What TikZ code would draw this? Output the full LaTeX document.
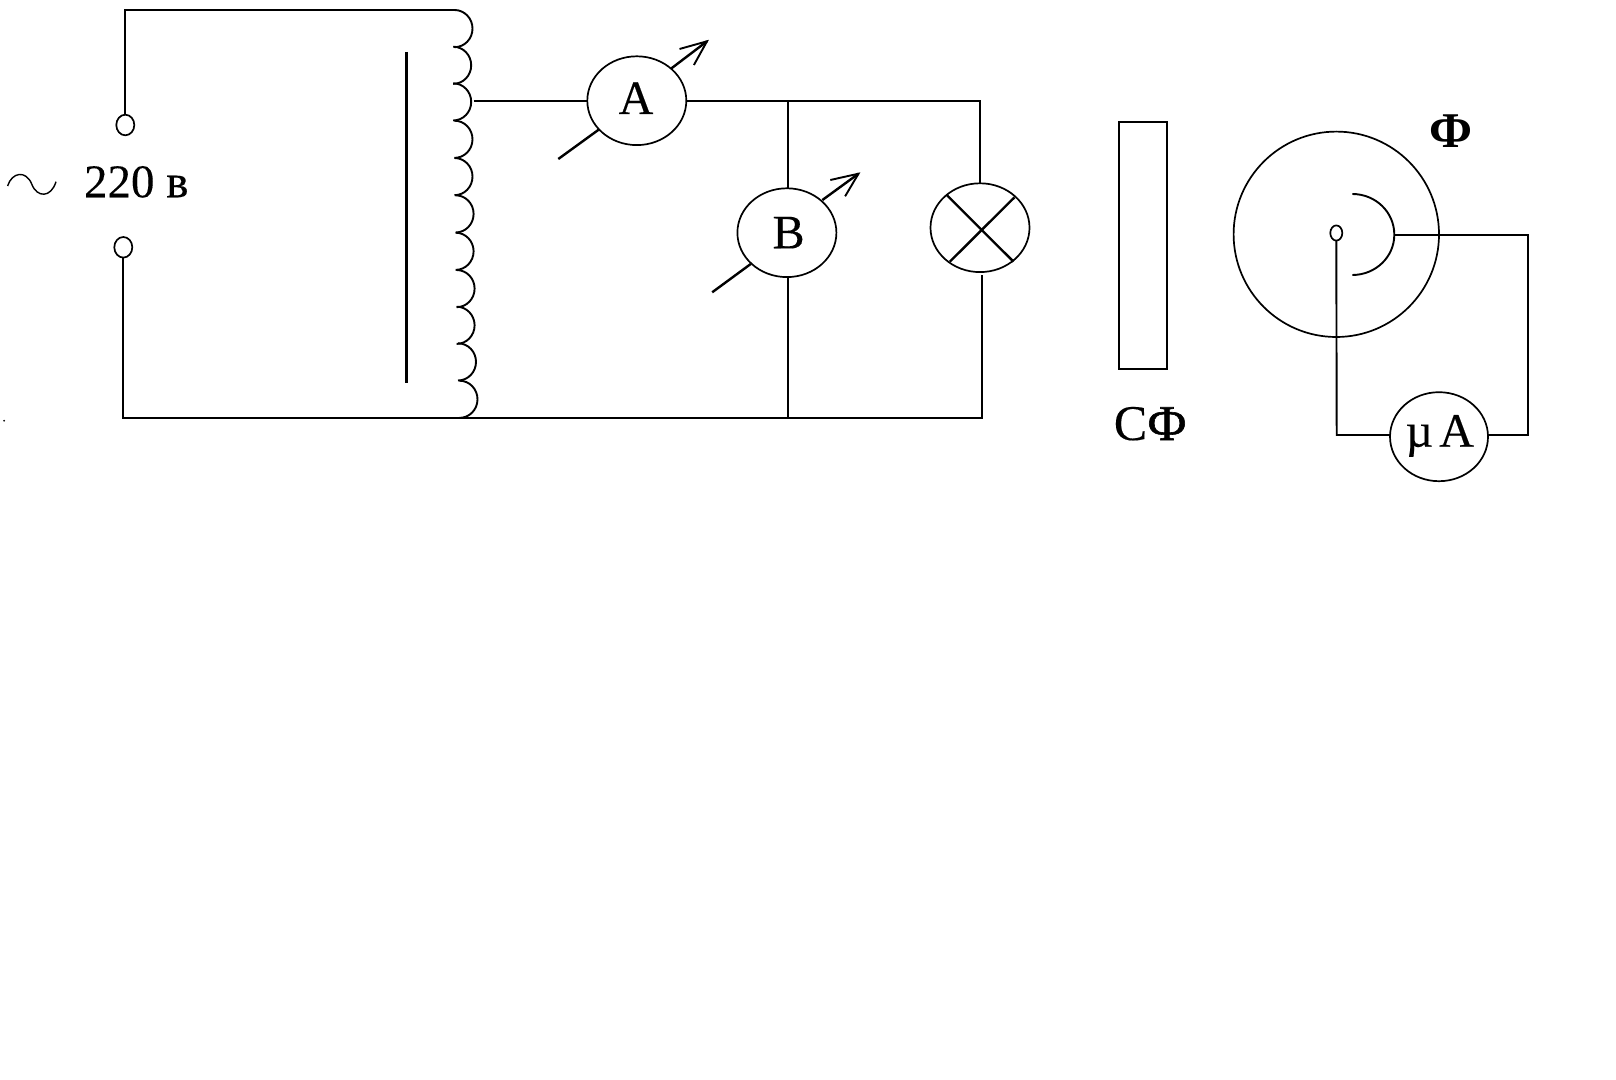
\documentclass[tikz,border=0pt]{standalone}
\usepackage{fontspec}
\setmainfont{Liberation Serif}
\usetikzlibrary{shapes.geometric}
\tikzset{
  wire/.style={draw=black,line width=0.95pt,line cap=butt,line join=miter},
  heavyw/.style={draw=black,line width=1.2pt},
  core/.style={draw=black,line width=1.5pt},
  meter/.style={shape=ellipse,draw=black,line width=0.85pt,minimum width=49.5pt,minimum height=44.4pt,inner sep=0pt,outer sep=0pt},
  term/.style={shape=ellipse,draw=black,line width=0.85pt,minimum width=9pt,minimum height=10.3pt,inner sep=0pt,outer sep=0pt},
  lbl/.style={inner sep=0pt,outer sep=0pt,anchor=base,font=\fontsize{24}{28}\selectfont\addfontfeature{FakeBold=0.25}},
}
\begin{document}
\begin{tikzpicture}[x=0.5pt,y=-0.5pt]
\useasboundingbox (0,0) rectangle (1616,1080);
% terminals
\node[term] (t1) at (125.3,125) {};
\node[term] (t2) at (123.3,247.3) {};
% meters and lamp
\node[meter] (am) at (636.8,100.7) {};
\node[meter] (vm) at (786.9,232.7) {};
\node[meter] (lamp) at (980,227.7) {};
\node[meter,minimum width=49pt,minimum height=44.5pt] (ua) at (1439,436.7) {};
% labels
\node[lbl,anchor=base west,font=\fontsize{23.5}{28}\selectfont\addfontfeature{FakeBold=0.25}] (v220) at (84,197.3) {220 в};
\node[lbl] (la) at (636,114) {A};
\node[lbl] (lb) at (788.6,248.3) {B};
\node[lbl,font=\fontsize{25}{28}\selectfont\addfontfeature{FakeBold=0.25}] (lsf) at (1150.3,440) {С{\addfontfeature{FakeBold=1.2}Ф}};
\node[lbl,font=\fontsize{25}{28}\selectfont\bfseries] (lf) at (1450.5,147.5) {Ф};
\node[lbl] (lua) at (1439.7,446.7) {µ\hspace{3pt}A};
% coordinates
\coordinate (tl) at (124.7,10);
\coordinate (c0) at (454.5,10);
\coordinate (bl) at (122.6,417.7);
\coordinate (tap) at (473.5,100.7);
\coordinate (j1) at (788,100.7);
\coordinate (j2) at (788,417.7);
\coordinate (tr) at (980,100.7);
\coordinate (br) at (982.1,417.7);
\coordinate (lampb) at (982.1,275);
% mains wires
\draw[wire] (t1.north) -- (t1.north |- tl) -- (c0);
\draw[wire] (t2.south) -- (t2.south |- bl) -- (br) -- (lampb);
% winding
\foreach \xa/\ya in {454.5/10,453.2/46.7,453.2/83.3,454.5/120.7,454.5/158,455.6/195.3,455.6/232.7,456.6/270,456.6/306.7,458/343.3,459.5/380.7}
  \draw[wire] (\xa,\ya) arc[start angle=90,end angle=-90,x radius=9pt,y radius=9.3pt];
% core
\coordinate (co1) at (406.3,52);
\coordinate (co2) at (406.3,382.7);
\draw[core] (co1) -- (co2);
% load circuit
\draw[wire] (tap) -- (am.west);
\draw[wire] (am.east) -- (tr) -- (lamp.north -| tr);
\draw[wire] (j1) -- (vm.north -| j1);
\draw[wire] (vm.south -| j2) -- (j2);
% lamp cross
\coordinate (x1) at (947,195.3);
\coordinate (x2) at (1013.5,261.7);
\coordinate (x3) at (1014.5,197.3);
\coordinate (x4) at (949.8,261.7);
\draw[heavyw] (x1) -- (x2);
\draw[heavyw] (x3) -- (x4);
% variable arrows
\coordinate (a1) at (558.3,159);
\coordinate (a2) at (599.2,129.3);
\coordinate (a3) at (671.5,68.3);
\coordinate (a4) at (707,41.3);
\coordinate (a5) at (679.5,49);
\coordinate (a6) at (693.9,65);
\draw[heavyw] (a1) -- (a2);
\draw[heavyw] (a3) -- (a4);
\draw[wire] (a5) -- (a4) -- (a6);
\coordinate (b1) at (712.2,292.3);
\coordinate (b2) at (750.7,264);
\coordinate (b3) at (822.4,200);
\coordinate (b4) at (858.5,173.7);
\coordinate (b5) at (830.3,180);
\coordinate (b6) at (845.1,196.3);
\draw[heavyw] (b1) -- (b2);
\draw[heavyw] (b3) -- (b4);
\draw[wire] (b5) -- (b4) -- (b6);
% tilde
\coordinate (ti1) at (7.6,186);
\coordinate (ti2) at (31.7,184);
\coordinate (ti3) at (56,181.7);
\draw[draw=black,line width=0.7pt] (ti1) .. controls (12,172) and (26,170) .. (ti2) .. controls (37,198) and (51,198) .. (ti3);
% speck
\fill[black] (4.1,420.7) circle (0.5pt);
% filter
\node[draw=black,line width=0.95pt,shape=rectangle,inner sep=0pt,outer sep=0pt,minimum width=24.3pt,minimum height=123.6pt] (sf) at (1143,245.3) {};
% photocell
\node[shape=circle,draw=black,line width=0.85pt,minimum size=102.7pt,inner sep=0pt,outer sep=0pt] (pc) at (1336.3,234.3) {};
\node[term,minimum width=6pt,minimum height=7.6pt] (pk) at (1336.3,233) {};
\coordinate (ar1) at (1352.3,194);
\coordinate (ar2) at (1394.3,234.7);
\coordinate (ar3) at (1352.3,275);
\draw[wire] (ar1) .. controls (1375.5,194) and (1394.3,212) .. (ar2) .. controls (1394.3,257) and (1375.5,275) .. (ar3);
\coordinate (r1) at (1528,234.7);
\coordinate (r2) at (1528,435);
\coordinate (l1) at (1336.7,435);
\draw[wire] (ar2) -- (r1) -- (r2) -- (ua.east |- r2);
\draw[wire] (pk.south) -- (l1) -- (ua.west |- l1);
\end{tikzpicture}
\end{document}
